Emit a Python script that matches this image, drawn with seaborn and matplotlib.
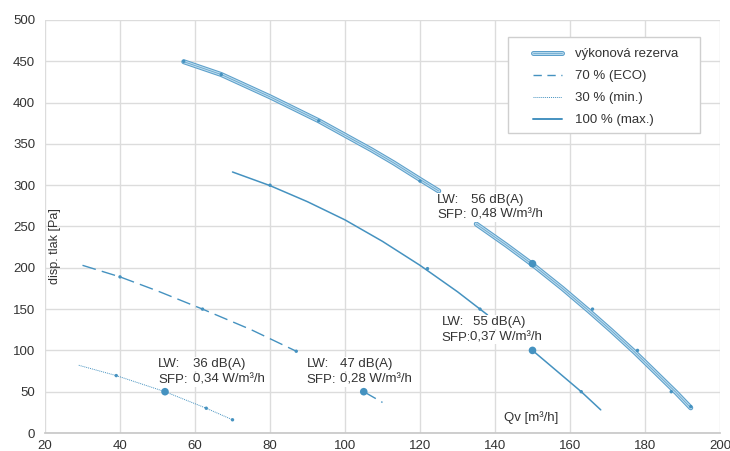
import matplotlib
matplotlib.use("Agg")
import matplotlib.pyplot as plt
import matplotlib.patheffects as pe
from matplotlib.patches import Rectangle
from matplotlib.lines import Line2D
import seaborn as sns

# výkonová rezerva (dvojitá čára), přerušená pod popiskem
res_q1 = [57, 67, 80, 93, 107, 113, 120, 125]
res_p1 = [449.5, 434, 407, 378, 343, 327, 307, 293]
res_q2 = [135, 143, 150, 158, 165, 171, 177, 183, 188.3, 192.2]
res_p2 = [253, 227.5, 204, 175, 148, 124, 99, 72.5, 49, 30.5]

# 100 % (max.)
max_q1 = [70, 80, 90, 100, 110, 120, 130, 136, 138]
max_p1 = [316, 299.5, 280, 258, 232, 203, 171, 150, 143]
max_q2 = [150, 163, 168.2]
max_p2 = [100, 50, 28]

# 70 % (ECO)
eco_q1 = [30, 40, 50, 62, 75, 87]
eco_p1 = [203, 189, 172, 150, 125, 99]
eco_q2 = [105, 110]
eco_p2 = [50, 37]

# 30 % (min.)
min_q = [29, 39, 52, 63, 70]
min_p = [82, 69.5, 50, 30, 16]

# malé body na křivkách
dot_q = [57, 67, 93, 120, 166, 178, 187, 192.2, 80, 122, 136, 163, 40, 62, 87, 39, 63, 70]
dot_p = [450, 434, 378, 305, 150, 100, 50, 32, 300, 199, 150, 50, 189, 150, 99, 69.5, 30, 16]

# pracovní body
op_q = [52, 105, 150, 150]
op_p = [50, 50, 100, 205]
op_lw = ["36 dB(A)", "47 dB(A)", "55 dB(A)", "56 dB(A)"]
op_sfp = ["0,34 W/m³/h", "0,28 W/m³/h", "0,37 W/m³/h", "0,48 W/m³/h"]

# umístění popisků (v datových souřadnicích)
key_q = [50.2, 89.8, 125.8, 124.6]
lw_val_q = [59.4, 98.7, 134.1, 133.6]
sfp_val_q = [59.4, 98.7, 133.4, 133.6]
lw_row_p = [83.5, 83.5, 134.4, 282]
sfp_row_p = [64.2, 64.2, 115.6, 264]

legend_labels = ["výkonová rezerva", "70 % (ECO)", "30 % (min.)", "100 % (max.)"]

BLUE = "#4592c0"
DARK = "#5c9fca"
LIGHT = "#bcdcee"
TXT = "#333333"
GRID = "#dcdcdc"

sns.set_theme(style="whitegrid")
plt.rcParams['font.family'] = ['Liberation Sans', 'DejaVu Sans']

fig = plt.figure(figsize=(7.3, 4.51), dpi=100)
ax = fig.add_axes([45 / 730, 1 - 433 / 451, 675 / 730, 413 / 451])

res_fx = [pe.Stroke(linewidth=3.6, foreground=DARK),
          pe.Stroke(linewidth=2.1, foreground=LIGHT),
          pe.Normal()]

for q, p in [(res_q1, res_p1), (res_q2, res_p2)]:
    sns.lineplot(x=q, y=p, ax=ax, color=DARK, linewidth=0.5, path_effects=res_fx, zorder=3)
for q, p in [(max_q1, max_p1), (max_q2, max_p2)]:
    sns.lineplot(x=q, y=p, ax=ax, color=BLUE, linewidth=1.1, zorder=3)
for q, p in [(eco_q1, eco_p1), (eco_q2, eco_p2)]:
    sns.lineplot(x=q, y=p, ax=ax, color=BLUE, linewidth=1.0, linestyle=(0, (10, 4.5)), zorder=3)
sns.lineplot(x=min_q, y=min_p, ax=ax, color=BLUE, linewidth=0.7, linestyle=(0, (1, 1)), zorder=3)

sns.scatterplot(x=dot_q, y=dot_p, ax=ax, s=6, color=BLUE, edgecolor="none", zorder=4)
sns.scatterplot(x=op_q, y=op_p, ax=ax, s=30, color=BLUE, edgecolor="none", zorder=4)

box = dict(facecolor="white", edgecolor="none", pad=0.6)
for i in range(len(op_q)):
    ax.text(key_q[i], lw_row_p[i], "LW:", fontsize=9.5, color=TXT, va="center", bbox=box, zorder=5)
    ax.text(key_q[i], sfp_row_p[i], "SFP:", fontsize=9.5, color=TXT, va="center", bbox=box, zorder=5)
    ax.text(lw_val_q[i], lw_row_p[i], op_lw[i], fontsize=9.5, color=TXT, va="center", bbox=box, zorder=5)
    ax.text(sfp_val_q[i], sfp_row_p[i], op_sfp[i], fontsize=9.5, color=TXT, va="center", bbox=box, zorder=5)

ax.text(142.4, 19, "Qv [m³/h]", fontsize=9.5, color=TXT, va="center", ha="left")
ax.text(22.7, 226, "disp. tlak [Pa]", fontsize=9, color=TXT, va="center", ha="center", rotation=90)

ax.set_xlim(20, 200)
ax.set_ylim(0, 500)
ax.set_xticks(range(20, 201, 20))
ax.set_yticks(range(0, 501, 50))
ax.set_xlabel("")
ax.set_ylabel("")
ax.grid(True, color=GRID, linewidth=1.0)
for side in ["top", "right", "left"]:
    ax.spines[side].set_visible(False)
ax.spines["bottom"].set_color("#c8c8c8")
ax.tick_params(axis="both", length=3, width=0.8, color="#c8c8c8", labelsize=9.5, labelcolor=TXT)
ax.tick_params(axis="y", pad=4)
ax.tick_params(axis="x", pad=2)

# legenda
handles = [
    Line2D([], [], color=DARK, linewidth=0.5, path_effects=res_fx),
    Line2D([], [], color=BLUE, linewidth=1.0, linestyle=(0, (6, 4))),
    Line2D([], [], color=BLUE, linewidth=0.7, linestyle=(0, (1, 1))),
    Line2D([], [], color=BLUE, linewidth=1.4),
]
ax.add_patch(Rectangle(((508 - 45) / 675, (433 - 133) / 413), 192 / 675, 96 / 413,
                       transform=ax.transAxes, facecolor="white", edgecolor="#cfcfcf",
                       linewidth=1.0, zorder=6))
leg = ax.legend(handles, legend_labels, loc="upper left", bbox_to_anchor=((533 - 45) / 675, (433 - 48) / 413),
                frameon=False, borderpad=0, borderaxespad=0, handlelength=2.2, handletextpad=1.0,
                labelspacing=0.74, fontsize=9.5)
leg.set_zorder(7)
for t in leg.get_texts():
    t.set_color(TXT)

fig.savefig("out.png", dpi=100)
